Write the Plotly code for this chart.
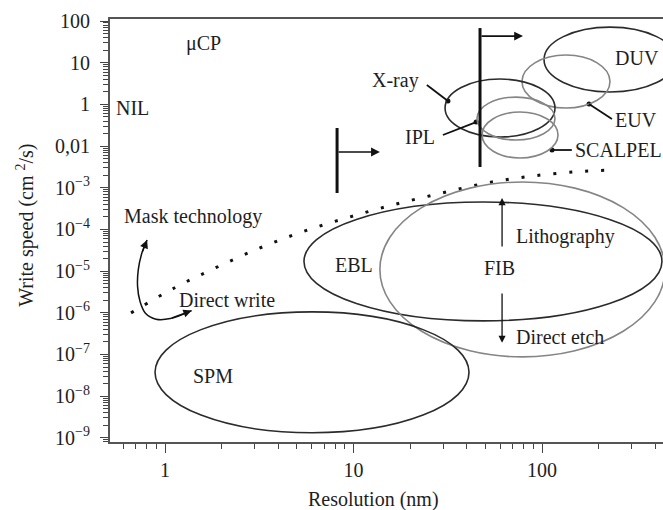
import numpy as np
import plotly.graph_objects as go

# ---------------- data ----------------
# Ellipses: bounding boxes in data units (resolution nm, write speed)
ell_names = ["DUV", "EUV", "X-ray", "IPL", "SCALPEL", "EBL", "FIB", "SPM"]
ell_x0 = [102.5, 78.3, 30.6, 45.2, 48.1, 5.46, 13.8, 0.885]
ell_x1 = [514.0, 229.5, 117.2, 117.2, 121.6, 433.0, 449.0, 41.0]
ell_y0 = [1.98, 0.820, 0.165, 0.140, 0.0519, 6.40e-6, 8.75e-7, 1.32e-8]
ell_y1 = [71.8, 15.3, 4.06, 1.50, 0.657, 4.56e-3, 0.01377, 1.05e-5]
ell_tone = ["dark", "gray", "dark", "gray", "gray", "dark", "gray", "dark"]

# Text labels
lab_text = ["μCP", "NIL", "X-ray", "IPL", "DUV", "EUV", "SCALPEL", "EBL", "FIB",
            "SPM", "Lithography", "Direct etch", "Mask technology", "Direct write"]
lab_x = [1.59, 0.668, 16.6, 22.5, 319, 315, 146, 10.0, 59.5, 1.80, 71.1, 71.1, 0.591, 1.158]
lab_y = [29.7, 0.82, 3.85, 0.165, 13.0, 0.423, 0.0806, 1.41e-4, 1.19e-4, 3.07e-7,
         6.61e-4, 2.64e-6, 2.0e-3, 2.04e-5]
lab_anchor = ["center", "center", "center", "center", "center", "center", "left", "center",
              "center", "center", "left", "left", "left", "left"]

# Leader lines (label -> dot on ellipse)
lead_x0 = [24.5, 29.8, 235.0, 144.0]
lead_y0 = [2.92, 0.185, 0.446, 0.0806]
lead_x1 = [31.7, 44.7, 177.6, 113.0]
lead_y1 = [1.21, 0.378, 1.02, 0.0806]

# Dotted trend curve (Mask technology / Direct write boundary)
dot_x = [0.660, 1.113, 1.86, 3.16, 5.38, 9.29, 16.1, 29.0, 51.8, 91.8, 165.0, 244.0]
dot_y = [9.95e-6, 3.89e-5, 1.21e-4, 3.54e-4, 8.85e-4, 1.92e-3, 3.87e-3, 7.38e-3,
         0.01325, 0.0195, 0.0249, 0.0267]

# Curved double arrow between "Mask technology" and "Direct write"
curve_x = [0.803, 0.753, 0.721, 0.715, 0.737, 0.787, 0.896, 1.067, 1.384]
curve_y = [5.60e-4, 2.69e-4, 1.07e-4, 4.25e-5, 1.86e-5, 9.78e-6, 7.03e-6, 7.26e-6, 1.13e-5]

# Vertical limit bars with their arrows
bar_x = [46.9, 8.18]
bar_ylo = [0.0315, 7.50e-3]
bar_yhi = [68.0, 0.272]
bar_arrow_y = [43.6, 0.0722]
bar_arrow_x1 = [79.3, 13.8]

# Lithography / Direct etch arrows
la_x = [61.4, 61.4]
la_y_tail = [3.60e-4, 3.17e-5]
la_y_head = [5.69e-3, 1.90e-6]

# Axis ticks
y_tickvals = [1e2, 1e1, 1e0, 1e-1, 1e-2, 1e-3, 1e-4, 1e-5, 1e-6, 1e-7, 1e-8]
y_ticktext = ["100", "10", "1", "0,01", "10<sup>−3</sup>", "10<sup>−4</sup>", "10<sup>−5</sup>",
              "10<sup>−6</sup>", "10<sup>−7</sup>", "10<sup>−8</sup>", "10<sup>−9</sup>"]
x_tickvals = [1, 10, 100]
x_ticktext = ["1", "10", "100"]

# ---------------- figure ----------------
FONT = "Liberation Serif, Times New Roman, serif"
DARK = "#2b2b2b"
GRAY = "#858585"
L = np.log10

fig = go.Figure()

shapes = []
for n, x0, x1, y0, y1, t in zip(ell_names, ell_x0, ell_x1, ell_y0, ell_y1, ell_tone):
    shapes.append(dict(type="circle", xref="x", yref="y", x0=x0, x1=x1, y0=y0, y1=y1,
                       line=dict(color=DARK if t == "dark" else GRAY, width=1.6),
                       fillcolor="rgba(0,0,0,0)", layer="above"))
# thick vertical bars
for bx, lo, hi in zip(bar_x, bar_ylo, bar_yhi):
    shapes.append(dict(type="line", xref="x", yref="y", x0=bx, x1=bx, y0=lo, y1=hi,
                       line=dict(color="#111", width=3)))
# leader lines
for x0, y0, x1, y1 in zip(lead_x0, lead_y0, lead_x1, lead_y1):
    shapes.append(dict(type="line", xref="x", yref="y", x0=x0, x1=x1, y0=y0, y1=y1,
                       line=dict(color="#111", width=1.8)))

# leader dots
fig.add_trace(go.Scatter(x=lead_x1, y=lead_y1, mode="markers",
                         marker=dict(size=5, color="#111"), hoverinfo="skip", showlegend=False))

# dotted boundary
fig.add_trace(go.Scatter(x=dot_x, y=dot_y, mode="lines",
                         line=dict(color="#111", width=3, dash="3px,13px", shape="spline", smoothing=1.0),
                         hoverinfo="skip", showlegend=False))

# curved double arrow body
fig.add_trace(go.Scatter(x=curve_x, y=curve_y, mode="lines",
                         line=dict(color="#111", width=1.5, shape="spline", smoothing=1.0),
                         hoverinfo="skip", showlegend=False))

annotations = []


def arrow(xh, yh, xt, yt, width=1.5, size=1.0):
    annotations.append(dict(x=L(xh), y=L(yh), ax=L(xt), ay=L(yt), xref="x", yref="y",
                            axref="x", ayref="y", text="", showarrow=True, arrowhead=2,
                            arrowsize=size, arrowwidth=width, arrowcolor="#111", standoff=0))


# arrows at the ends of the curved arrow
arrow(curve_x[0], curve_y[0], curve_x[1], curve_y[1], 1.5, 1.1)
arrow(curve_x[-1], curve_y[-1], curve_x[-2], curve_y[-2], 1.5, 1.1)
# bar arrows
for bx, ay, ax1 in zip(bar_x, bar_arrow_y, bar_arrow_x1):
    arrow(ax1, ay, bx, ay, 1.6, 1.1)
# lithography / direct etch arrows
for x, yt, yh in zip(la_x, la_y_tail, la_y_head):
    arrow(x, yh, x, yt, 1.3, 1.1)

# text labels
for t, x, y, a in zip(lab_text, lab_x, lab_y, lab_anchor):
    annotations.append(dict(x=L(x), y=L(y), xref="x", yref="y", text=t, showarrow=False,
                            xanchor=a, yanchor="middle",
                            font=dict(family=FONT, size=20, color="#1e1e1e")))

# axis titles
annotations.append(dict(x=0.476, y=-0.137, xref="paper", yref="paper", text="Resolution (nm)",
                        showarrow=False, xanchor="center", yanchor="middle",
                        font=dict(family=FONT, size=20, color="#1e1e1e")))
annotations.append(dict(x=-0.154, y=0.513, xref="paper", yref="paper",
                        text="Write speed (cm <sup>2</sup>/s)", textangle=-90,
                        showarrow=False, xanchor="center", yanchor="middle",
                        font=dict(family=FONT, size=20, color="#1e1e1e")))

x_minor = [m * 10.0 ** e for e in range(-1, 3) for m in range(2, 10)]
y_minor = [m * 10.0 ** e for e in range(-9, 2) for m in range(2, 10)]

fig.update_layout(
    width=663, height=510,
    margin=dict(l=110, r=0, t=19, b=68),
    paper_bgcolor="white", plot_bgcolor="white",
    shapes=shapes, annotations=annotations,
    font=dict(family=FONT, size=20, color="#1e1e1e"),
    xaxis=dict(type="log", range=[-0.292, 2.642], tickmode="array",
               tickvals=x_tickvals, ticktext=x_ticktext,
               ticks="outside", ticklen=9, tickwidth=1.3, tickcolor="#444",
               showline=True, linecolor="#555", linewidth=2, mirror=True,
               showgrid=False, zeroline=False,
               tickfont=dict(family=FONT, size=20, color="#1e1e1e"),
               minor=dict(tickmode="array", tickvals=x_minor, ticks="outside", ticklen=5,
                          tickwidth=1.2, tickcolor="#444", showgrid=False)),
    yaxis=dict(type="log", range=[-8.1, 2.05], tickmode="array",
               tickvals=y_tickvals, ticktext=y_ticktext,
               ticks="outside", ticklen=8, tickwidth=1.3, tickcolor="#444",
               showline=True, linecolor="#555", linewidth=2,
               showgrid=False, zeroline=False, ticklabelstandoff=6,
               tickfont=dict(family=FONT, size=20, color="#1e1e1e"),
               minor=dict(tickmode="array", tickvals=y_minor, ticks="outside", ticklen=5,
                          tickwidth=1.2, tickcolor="#444", showgrid=False)),
    showlegend=False,
)

fig.write_html("out.html")
